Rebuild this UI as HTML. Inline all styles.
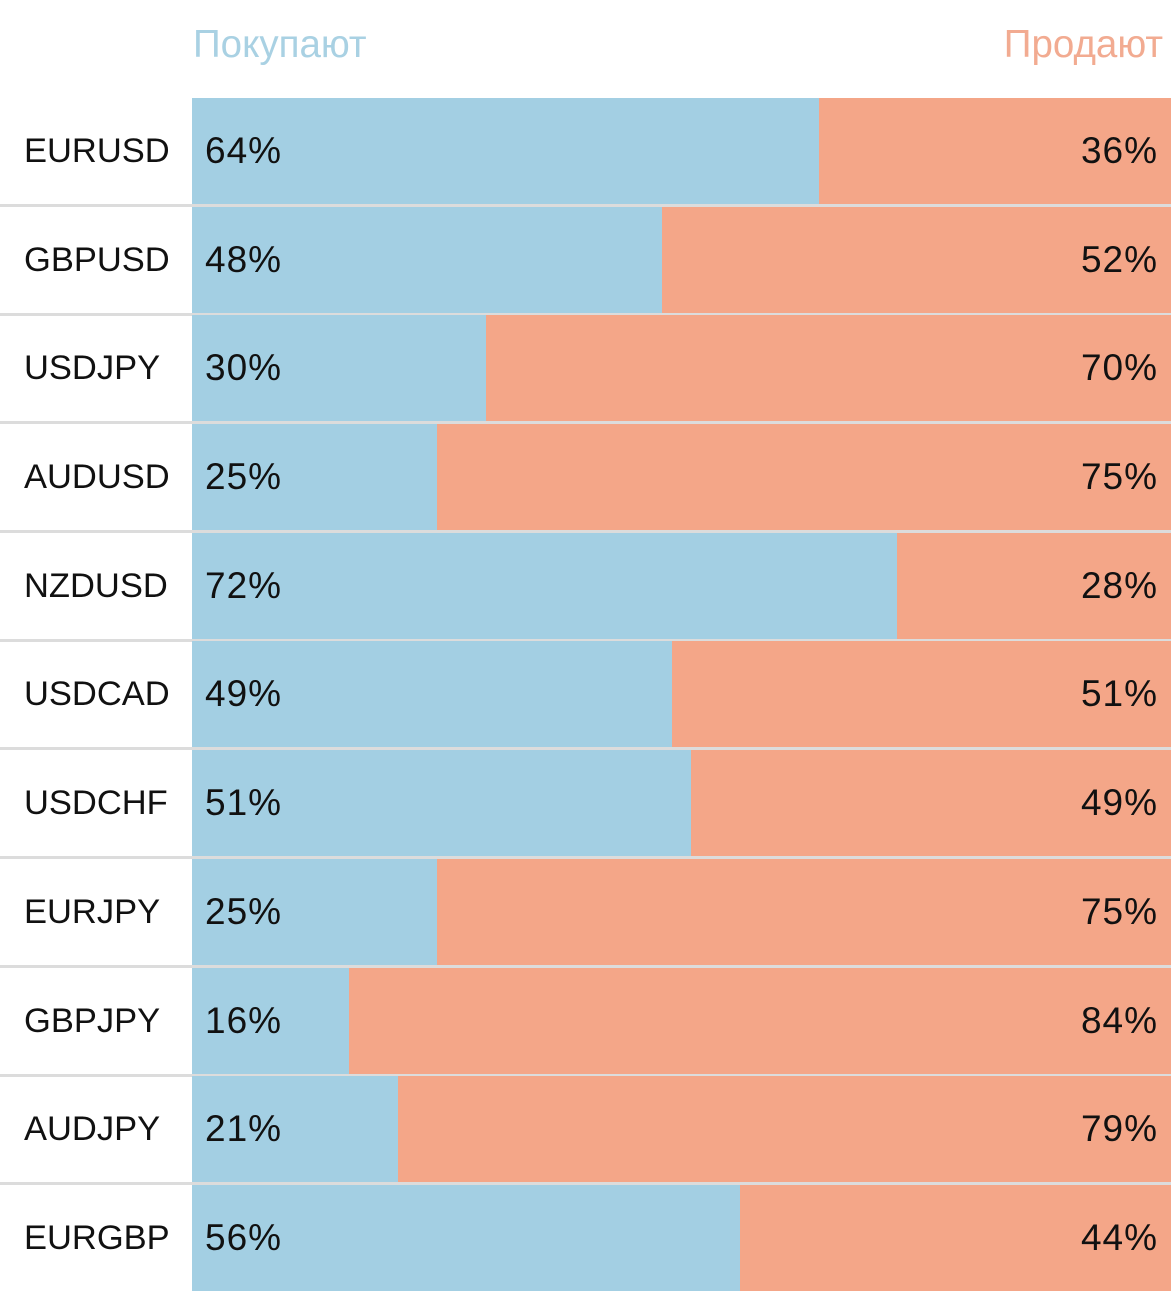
<!DOCTYPE html>
<html><head><meta charset="utf-8"><style>
body{margin:0;width:1171px;height:1280px;background:#fff;position:relative;overflow:hidden;font-family:"Liberation Sans","DejaVu Sans",sans-serif;}
.h{position:absolute;top:23px;font-size:38.5px;line-height:44px;}
.r{position:absolute;left:0;width:1171px;height:109px;}
.r .n{position:absolute;left:24px;top:0;height:106px;line-height:106px;font-size:34.5px;color:#111;}
.r .b{position:absolute;left:192px;top:0;height:106px;background:#a3cfe3}
.r .s{position:absolute;right:0;top:0;height:106px;background:#f4a688}
.r .p{position:absolute;left:205px;top:0;height:106px;line-height:106px;font-size:37px;color:#111;letter-spacing:1px}
.r .q{position:absolute;right:13px;top:0;height:106px;line-height:106px;font-size:37px;color:#111;letter-spacing:1px}
.r .l{position:absolute;left:0;top:106px;width:1171px;height:3px;background:#dcdcdc}
</style></head><body>
<div class="h" style="left:193px;color:#a9d1e3">Покупают</div>
<div class="h" style="right:8px;color:#f2ab91">Продают</div>

<div class="r" style="top:98px"><div class="n">EURUSD</div><div class="b" style="width:627px"></div><div class="s" style="width:352px"></div><div class="p">64%</div><div class="q">36%</div><div class="l"></div></div>
<div class="r" style="top:207px"><div class="n">GBPUSD</div><div class="b" style="width:470px"></div><div class="s" style="width:509px"></div><div class="p">48%</div><div class="q">52%</div><div class="l"></div></div>
<div class="r" style="top:315px"><div class="n">USDJPY</div><div class="b" style="width:294px"></div><div class="s" style="width:685px"></div><div class="p">30%</div><div class="q">70%</div><div class="l"></div></div>
<div class="r" style="top:424px"><div class="n">AUDUSD</div><div class="b" style="width:245px"></div><div class="s" style="width:734px"></div><div class="p">25%</div><div class="q">75%</div><div class="l"></div></div>
<div class="r" style="top:533px"><div class="n">NZDUSD</div><div class="b" style="width:705px"></div><div class="s" style="width:274px"></div><div class="p">72%</div><div class="q">28%</div><div class="l"></div></div>
<div class="r" style="top:641px"><div class="n">USDCAD</div><div class="b" style="width:480px"></div><div class="s" style="width:499px"></div><div class="p">49%</div><div class="q">51%</div><div class="l"></div></div>
<div class="r" style="top:750px"><div class="n">USDCHF</div><div class="b" style="width:499px"></div><div class="s" style="width:480px"></div><div class="p">51%</div><div class="q">49%</div><div class="l"></div></div>
<div class="r" style="top:859px"><div class="n">EURJPY</div><div class="b" style="width:245px"></div><div class="s" style="width:734px"></div><div class="p">25%</div><div class="q">75%</div><div class="l"></div></div>
<div class="r" style="top:968px"><div class="n">GBPJPY</div><div class="b" style="width:157px"></div><div class="s" style="width:822px"></div><div class="p">16%</div><div class="q">84%</div><div class="l"></div></div>
<div class="r" style="top:1076px"><div class="n">AUDJPY</div><div class="b" style="width:206px"></div><div class="s" style="width:773px"></div><div class="p">21%</div><div class="q">79%</div><div class="l"></div></div>
<div class="r" style="top:1185px"><div class="n">EURGBP</div><div class="b" style="width:548px"></div><div class="s" style="width:431px"></div><div class="p">56%</div><div class="q">44%</div></div>
</body></html>
